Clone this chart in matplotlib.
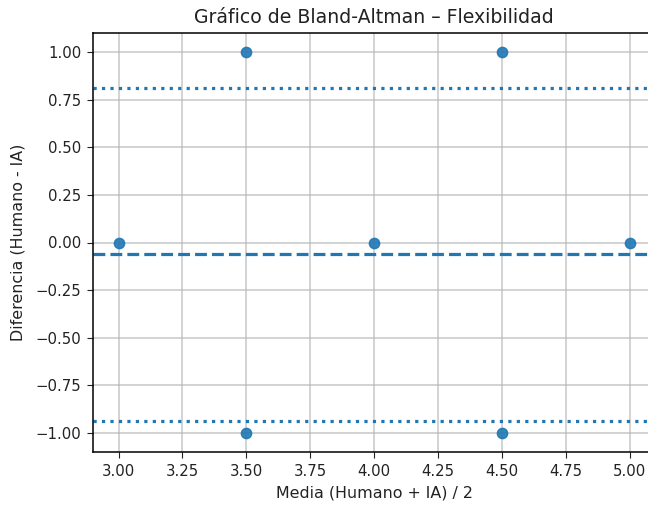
import matplotlib
matplotlib.use("Agg")
import matplotlib.pyplot as plt

medias = [3.0, 3.5, 3.5, 4.0, 4.5, 4.5, 5.0]
diferencias = [0.0, 1.0, -1.0, 0.0, 1.0, -1.0, 0.0]
media_dif = -0.0625
lim_sup = 0.8125
lim_inf = -0.9375

fig = plt.figure(figsize=(6.48, 5.05), dpi=100)
ax = fig.add_axes([93/648, 53/505, (655.5-93)/648, (452-33)/505])
ax.scatter(medias, diferencias, color='#1f77b4', s=55, alpha=0.9, zorder=3)
ax.axhline(media_dif, color='#1f77b4', linestyle='--', linewidth=2.3)
ax.axhline(lim_sup, color='#1f77b4', linestyle=':', linewidth=2.3)
ax.axhline(lim_inf, color='#1f77b4', linestyle=':', linewidth=2.3)
ax.set_xlim(2.9, 5.1)
ax.set_ylim(-1.1, 1.1)
ax.set_xticks([3.0, 3.25, 3.5, 3.75, 4.0, 4.25, 4.5, 4.75, 5.0])
ax.set_yticks([-1.0, -0.75, -0.5, -0.25, 0.0, 0.25, 0.5, 0.75, 1.0])
ax.grid(True, color='#b0b0b0', alpha=0.7, linewidth=1.1)
ax.tick_params(labelsize=10.7, length=4, pad=4.5, colors='#222222')
for s in ax.spines.values():
    s.set_linewidth(1.1)
ax.set_title('Gráfico de Bland-Altman – Flexibilidad', fontsize=13.6, pad=7, color='#222222')
ax.set_xlabel('Media (Humano + IA) / 2', fontsize=11.4, labelpad=5, color='#222222')
ax.set_ylabel('Diferencia (Humano - IA)', fontsize=11.4, labelpad=7, color='#222222')
fig.savefig('out.png', dpi=100)
